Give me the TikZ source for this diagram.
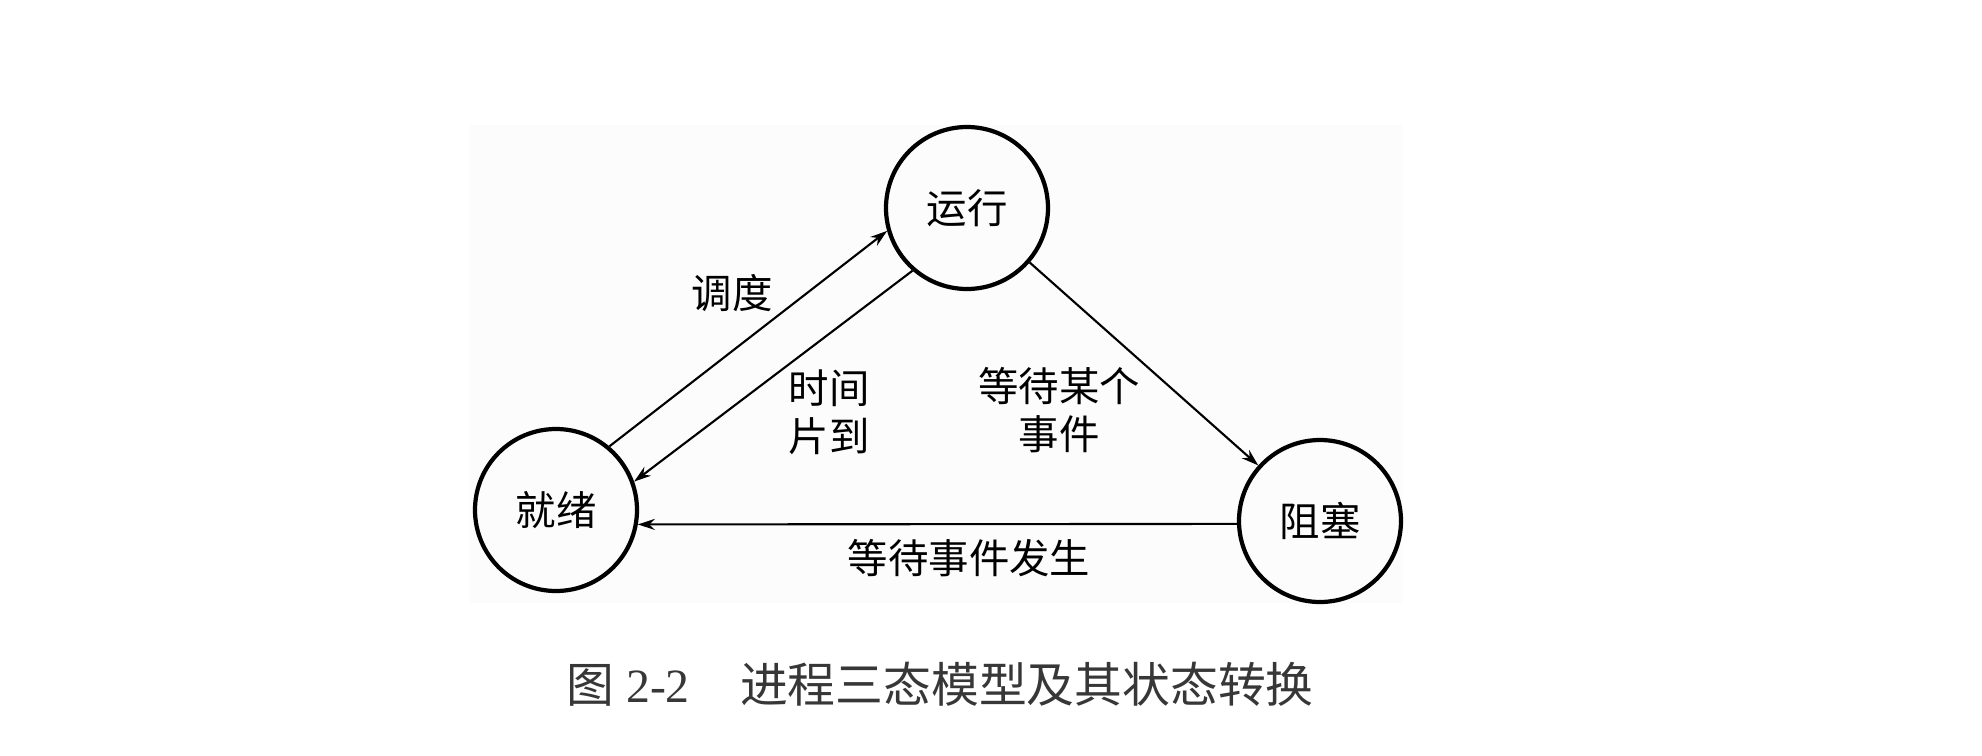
\documentclass[tikz,border=0pt]{standalone}
\usepackage{fontspec}
\setmainfont{Liberation Serif}
\newfontfamily\cjk{Noto Sans CJK SC}
\usepackage{xcolor}
\definecolor{PaperGray}{RGB}{252,252,252}
\definecolor{CaptionGray}{RGB}{55,55,55}
\usetikzlibrary{arrows.meta}

\begin{document}
\begin{tikzpicture}[scale=1,
        state/.style={circle, draw, line width=1.2pt, minimum size=1.62cm, inner sep=0pt,
            font=\cjk\fontsize{11.5}{13.5}\selectfont},
        trans/.style={line width=0.6pt, -{Stealth[length=1.7mm,width=1.1mm]}},
        lbl/.style={align=center, inner sep=0pt, font=\cjk\fontsize{11.5}{13.6}\selectfont}
    ]
        \useasboundingbox (0,0) rectangle (19.82,-7.56);
        \fill[PaperGray] (4.70,-1.25) rectangle (14.02,-6.03);

        % the three states
        \node[state] (run) at (9.67,-2.08) {运行};
        \node[state] (ready) at (5.56,-5.10) {就绪};
        \node[state] (block) at (13.20,-5.21) {阻塞};

        % transitions
        \draw[trans] (ready.50) -- (run.196);
        \draw[trans] (run.229) -- (ready.20);
        \draw[trans] (run.-41) -- (block.138);
        \draw[trans] (block.182.8) -- (ready.-10.4);

        \node[lbl] (dispatch) at (7.32,-2.93) {调度};
        \node[lbl] (timeout) at (8.29,-4.12) {时间\\片到};
        \node[lbl] (wait) at (10.59,-4.10) {等待某个\\事件};
        \node[lbl] (wakeup) at (9.69,-5.58) {等待事件发生};

        \node[inner sep=0pt, text=CaptionGray, font=\fontsize{13.6}{16}\selectfont] (caption) at (9.40,-6.84)
            {{\cjk 图} 2-2\hspace{1.05em}{\cjk 进程三态模型及其状态转换}};
    \end{tikzpicture}
\end{document}
